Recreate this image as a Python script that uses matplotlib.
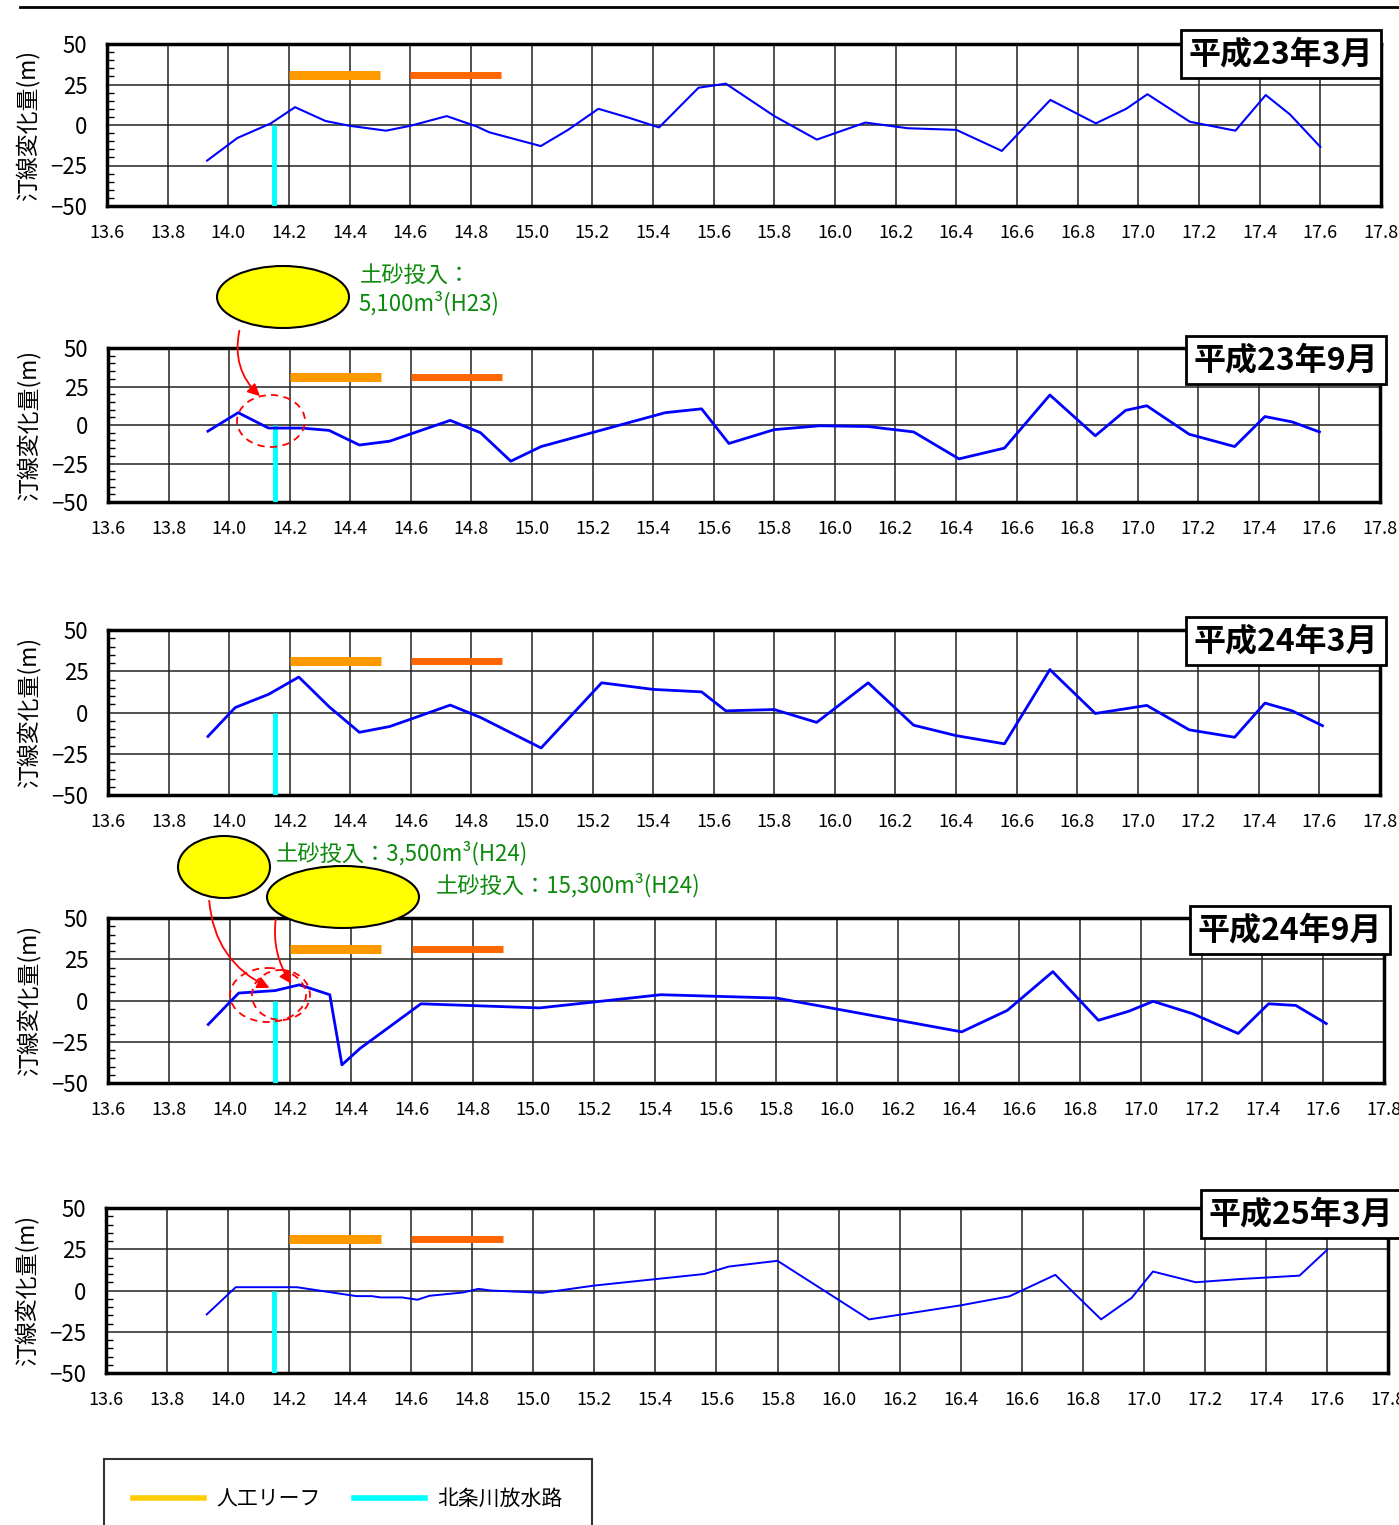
import matplotlib
matplotlib.use("Agg")
import matplotlib.pyplot as plt
from matplotlib.patches import Ellipse, FancyArrowPatch
from matplotlib.lines import Line2D
from matplotlib.ticker import MultipleLocator

plt.rcParams['font.family'] = ['Noto Sans CJK JP', 'DejaVu Sans']
JP = ['Noto Sans CJK JP', 'DejaVu Sans']

# ---------------- data ----------------
titles = ['平成23年3月', '平成23年9月', '平成24年3月', '平成24年9月', '平成25年3月']
ylabel = '汀線変化量(m)'
xticks = [13.6, 13.8, 14.0, 14.2, 14.4, 14.6, 14.8, 15.0, 15.2, 15.4, 15.6, 15.8,
          16.0, 16.2, 16.4, 16.6, 16.8, 17.0, 17.2, 17.4, 17.6, 17.8]
yticks = [-50, -25, 0, 25, 50]

x1 = [13.93, 14.03, 14.14, 14.22, 14.32, 14.40, 14.52, 14.60, 14.72, 14.82, 14.86, 15.03, 15.12,
      15.22, 15.32, 15.42, 15.55, 15.64, 15.80, 15.94, 16.10, 16.24, 16.40, 16.55, 16.71, 16.86,
      16.96, 17.03, 17.17, 17.32, 17.42, 17.50, 17.60]
y1 = [-22, -8, 1, 11, 2.5, -0.5, -3.5, -0.5, 5.5, -1, -4.5, -13, -3,
      10, 4.5, -1.5, 23, 25.5, 5.5, -9, 1.5, -2, -3, -16, 15.5, 1,
      10, 19, 2, -3.5, 18.5, 6.5, -13.5]

x2 = [13.93, 14.03, 14.13, 14.24, 14.33, 14.43, 14.53, 14.73, 14.83, 14.93, 15.03, 15.44, 15.56,
      15.65, 15.80, 15.95, 16.11, 16.26, 16.41, 16.56, 16.71, 16.86, 16.96, 17.03, 17.17, 17.32,
      17.42, 17.51, 17.60]
y2 = [-4, 8, -2, -2, -3.5, -13, -10.5, 3, -5, -23.5, -14, 8, 10.5,
      -12, -3, -0.5, -1, -4.5, -22, -15, 19.5, -7, 9.5, 12.5, -6, -14,
      5.5, 2, -4.5]

x3 = [13.93, 14.02, 14.13, 14.23, 14.33, 14.43, 14.53, 14.60, 14.73, 14.83, 15.03, 15.23, 15.40,
      15.56, 15.64, 15.80, 15.94, 16.11, 16.26, 16.40, 16.56, 16.71, 16.86, 17.03, 17.17, 17.32,
      17.42, 17.51, 17.61]
y3 = [-14.5, 3, 11, 21.5, 3.5, -12, -8.5, -4, 4.5, -3, -21.5, 18, 14,
      12.5, 1, 1.8, -6, 18, -7.7, -14, -19, 26, -0.6, 4.3, -10.5, -15,
      5.7, 1, -8]

x4 = [13.93, 14.03, 14.15, 14.23, 14.33, 14.37, 14.43, 14.63, 15.02, 15.42, 15.80, 16.41, 16.56,
      16.71, 16.86, 16.96, 17.04, 17.17, 17.32, 17.42, 17.51, 17.61]
y4 = [-14.5, 4.5, 6, 9.5, 3.5, -39, -29, -2, -4.5, 3.5, 1.5, -19, -6,
      17.5, -12, -6.5, -0.5, -8, -20, -2, -3, -14]

x5 = [13.93, 14.025, 14.225, 14.42, 14.47, 14.50, 14.57, 14.62, 14.66, 14.77, 14.82, 14.86, 15.03,
      15.20, 15.56, 15.64, 15.80, 16.10, 16.26, 16.40, 16.56, 16.71, 16.86, 16.96, 17.03, 17.17,
      17.32, 17.51, 17.60]
y5 = [-14.5, 2, 2, -3.4, -3.4, -4.2, -4.2, -5.6, -3.2, -1.2, 1, 0, -1.4,
      3, 10, 14.5, 18, -17.5, -13, -9, -3.5, 9.5, -17.5, -4.5, 11.5, 5,
      7, 9, 24.5]

reef_start = [14.2, 14.6]
reef_end = [14.5, 14.9]
reef_level = [31, 31]
reef_colors = ['#FF9900', '#FF6600']
reef_widths = [6.5, 5]
outfall_x = 14.15
legend_labels = ['人工リーフ', '北条川放水路']

xs = [x1, x2, x3, x4, x5]
ys = [y1, y2, y3, y4, y5]

# ---------------- layout (pixels) ----------------
W, H = 1399, 1525
def rect(l, t, r, b):
    return [l / W, 1 - b / H, (r - l) / W, (b - t) / H]

panel_px = [(107, 44, 1381, 206), (108, 348, 1380, 502), (108, 630, 1380, 795),
            (108, 918, 1384, 1083), (106, 1208, 1388, 1373)]
line_w = [1.5, 2.0, 2.0, 2.0, 1.4]
title_box = [(1281, 54), (1286, 360), (1286, 641), (1290, 930), (1301, 1214)]

fig = plt.figure(figsize=(W / 100, H / 100), dpi=100)

for i in range(5):
    ax = fig.add_axes(rect(*panel_px[i]))
    ax.set_xlim(13.6, 17.8)
    ax.set_ylim(-50, 50)
    ax.set_xticks(xticks)
    ax.set_xticklabels([f'{v:.1f}' for v in xticks], fontsize=13)
    ax.set_yticks(yticks)
    ax.set_yticklabels([str(v).replace('-', '\u2212') for v in yticks], fontsize=16)
    ax.yaxis.set_minor_locator(MultipleLocator(5))
    ax.tick_params(axis='x', length=0, pad=13)
    ax.tick_params(axis='y', which='major', length=0, pad=14)
    ax.tick_params(axis='y', which='minor', direction='in', length=5, width=1, right=False)
    ax.grid(True, which='major', color='#222222', lw=1.1)
    for s in ax.spines.values():
        s.set_linewidth(2.5)
    ax.set_ylabel(ylabel, fontsize=16.5, family=JP)
    ax.yaxis.set_label_coords(-0.053, 0.5)
    # reefs
    for xs0, xe0, lv, c, w in zip(reef_start, reef_end, reef_level, reef_colors, reef_widths):
        ax.plot([xs0, xe0], [lv, lv], color=c, lw=w, solid_capstyle='butt', zorder=3)
    # outfall
    ax.plot([outfall_x, outfall_x], [-50, 0], color='#00FFFF', lw=3.5, zorder=3,
            solid_capstyle='butt')
    ax.plot(xs[i], ys[i], color='#0000FF', lw=line_w[i], zorder=4)

# ---------------- overlay for annotations ----------------
ov = fig.add_axes([0, 0, 1, 1], zorder=10)
ov.set_xlim(0, W)
ov.set_ylim(H, 0)
ov.axis('off')
ov.patch.set_alpha(0)

ov.plot([20, W], [7, 7], color='black', lw=2)

for (cx, cy), t in zip(title_box, titles):
    ov.text(cx, cy, t, ha='center', va='center', fontsize=23, fontweight='bold', family=JP,
            bbox=dict(boxstyle='square,pad=0.25', fc='white', ec='black', lw=2))

green = '#0C8A0C'
# H23 sand
ov.add_patch(Ellipse((283, 297), 132, 62, fc='#FFFF00', ec='black', lw=1.5))
ov.text(360, 275, '土砂投入：', color=green, fontsize=16, family=JP, va='center')
ov.text(358, 303, '5,100m³(H23)', color=green, fontsize=16, family=JP, va='center')
ov.add_patch(FancyArrowPatch((240, 328), (262, 398), connectionstyle='arc3,rad=0.3',
                             arrowstyle='-|>', mutation_scale=18, color='red', lw=1.3))
ov.add_patch(Ellipse((271, 421), 68, 52, fc='none', ec='red', lw=1.3, ls=(0, (4, 3))))

# H24 sand
ov.add_patch(Ellipse((224, 867), 92, 62, fc='#FFFF00', ec='black', lw=1.5))
ov.add_patch(Ellipse((343, 897), 152, 62, fc='#FFFF00', ec='black', lw=1.5))
ov.text(276, 853, '土砂投入：3,500m³(H24)', color=green, fontsize=16, family=JP, va='center')
ov.text(436, 885, '土砂投入：15,300m³(H24)', color=green, fontsize=16, family=JP, va='center')
ov.add_patch(FancyArrowPatch((209, 898), (272, 989), connectionstyle='arc3,rad=0.3',
                             arrowstyle='-|>', mutation_scale=18, color='red', lw=1.3))
ov.add_patch(FancyArrowPatch((276, 917), (293, 986), connectionstyle='arc3,rad=0.2',
                             arrowstyle='-|>', mutation_scale=18, color='red', lw=1.3))
ov.add_patch(Ellipse((268, 995), 76, 54, fc='none', ec='red', lw=1.3, ls=(0, (4, 3))))
ov.add_patch(Ellipse((281, 995), 58, 50, fc='none', ec='red', lw=1.3, ls=(0, (4, 3))))

# legend
handles = [Line2D([], [], color='#FFCC00', lw=4), Line2D([], [], color='#00FFFF', lw=4)]
leg = fig.legend(handles, legend_labels, loc='upper left',
                 bbox_to_anchor=(104 / W, 1 - 1459 / H), ncol=2, frameon=True,
                 fancybox=False, edgecolor='black', prop={'family': JP, 'size': 15},
                 handlelength=3.4, handletextpad=0.6, columnspacing=1.6, borderpad=1.4,
                 borderaxespad=0)
leg.get_frame().set_linewidth(1.5)

fig.savefig('out.png', dpi=100)
